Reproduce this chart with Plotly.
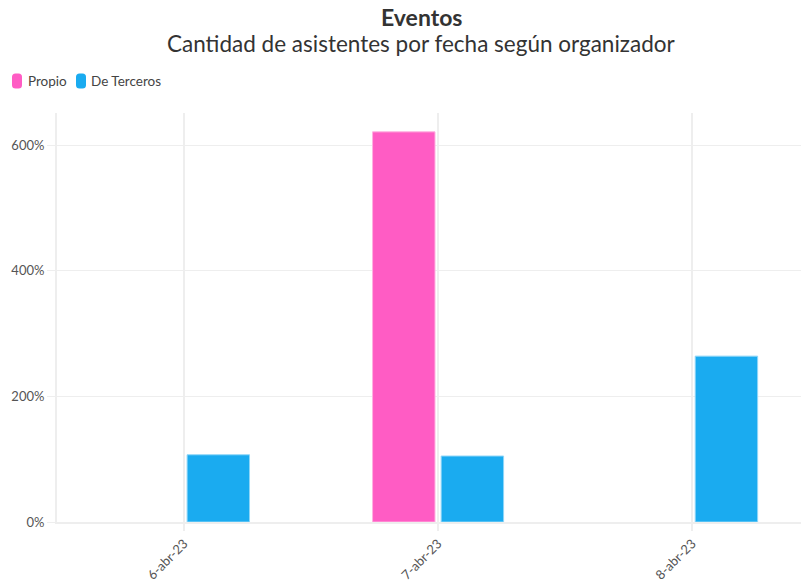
import plotly.graph_objects as go

fechas = ["6-abr-23", "7-abr-23", "8-abr-23"]
propio = [None, 6.21, None]
terceros = [1.07, 1.05, 2.64]
y_ticks = [0, 2, 4, 6]
series_names = ["Propio", "De Terceros"]
series_colors = ["#FF5CC4", "#1AABF0"]
series_lines = ["#FFB0E0", "#8FD6F8"]

FONT = "Lato"
W, H = 801, 573          # page body has an 8px margin
L, T, B = 49, 105, 59
PW, PH = W - L, H - T - B


def px_x(fx):
    return (fx - L) / PW


def px_y(fy):
    return 1 + (T - fy) / PH


fig = go.Figure()
for name, vals, col, lcol in zip(series_names, [propio, terceros], series_colors, series_lines):
    fig.add_trace(go.Bar(name=name, x=fechas, y=vals, showlegend=False,
                         marker=dict(color=col, line=dict(color=lcol, width=1))))

# compact legend (rounded swatches + labels)
legend_x = [(2, 18), (66, 81)]
pill = "M -5,-4 Q -5,-7.5 -1.5,-7.5 L 1.5,-7.5 Q 5,-7.5 5,-4 L 5,4 Q 5,7.5 1.5,7.5 L -1.5,7.5 Q -5,7.5 -5,4 Z"
shapes, annotations = [], []
for (mx, tx), name, col in zip(legend_x, series_names, series_colors):
    shapes.append(dict(type="path", xref="paper", yref="paper", xsizemode="pixel", ysizemode="pixel",
                       xanchor=px_x(mx + 7), yanchor=px_y(73), path=pill,
                       fillcolor=col, line=dict(width=0)))
    annotations.append(dict(text=name, xref="paper", yref="paper", x=px_x(tx), y=px_y(73),
                            xanchor="left", yanchor="middle", showarrow=False,
                            font=dict(family=FONT, size=13.5, color="#444")))

cx = px_x(421 - 8)
annotations += [
    dict(text="<b>Eventos</b>", xref="paper", yref="paper",
         x=cx, y=px_y(8.5), xanchor="center", yanchor="middle",
         showarrow=False, font=dict(family=FONT, size=23, color="#333")),
    dict(text="Cantidad de asistentes por fecha según organizador", xref="paper", yref="paper",
         x=cx, y=px_y(35.5), xanchor="center", yanchor="middle",
         showarrow=False, font=dict(family=FONT, size=22.5, color="#333")),
]

fig.update_layout(
    width=W, height=H,
    margin=dict(l=L, r=0, t=T, b=B),
    paper_bgcolor="white", plot_bgcolor="white",
    font=dict(family=FONT, color="#555", size=13),
    barmode="group", bargap=0.46, bargroupgap=0.09,
    xaxis=dict(type="category", range=[-0.5, 2.46], showgrid=True, gridcolor="#eeeeee",
               gridwidth=2, tickangle=-45, ticks="outside", tickcolor="#eeeeee",
               ticklen=7, tickwidth=2, showline=True, linecolor="#eeeeee", linewidth=2,
               tickfont=dict(size=13, color="#555"), automargin=False),
    yaxis=dict(range=[0, 6.51], tickvals=y_ticks, tickformat=".0%", showgrid=True,
               gridcolor="#eeeeee", gridwidth=1, zeroline=False, ticks="outside",
               tickcolor="#eeeeee", ticklen=8, showline=True, linecolor="#eeeeee",
               linewidth=2, tickfont=dict(size=13, color="#555"), automargin=False),
    shapes=shapes,
    annotations=annotations,
)
fig.write_html("out.html")
